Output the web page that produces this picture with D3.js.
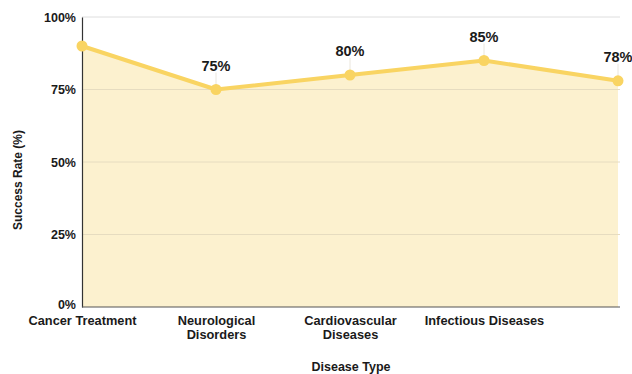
<!DOCTYPE html>
<html>
<head>
<meta charset="utf-8">
<script src="https://cdn.jsdelivr.net/npm/d3@7"></script>
<style>
  html, body { margin: 0; padding: 0; background: #fff; }
  svg { display: block; font-family: "Liberation Sans", Arial, sans-serif; }
</style>
</head>
<body>
<svg id="chart" width="632" height="374"></svg>
<script>
// Treatment success rate by disease type
const categories = ["Cancer Treatment", "Neurological Disorders", "Cardiovascular Diseases", "Infectious Diseases", ""];
const successRates = [90, 75, 80, 85, 78];
const yTicks = [0, 25, 50, 75, 100];
const labeled = [false, true, true, true, true];

const data = categories.map((c, i) => ({ key: i, name: c, value: successRates[i], labeled: labeled[i] }));

const svg = d3.select("#chart");
const margin = { left: 82, right: 14, top: 17, bottom: 67 };
const W = 632, H = 374;
const plotRight = W - margin.right + 2;

const x = d3.scalePoint().domain(data.map(d => d.key)).range([margin.left, 618]).padding(0);
const y = d3.scaleLinear().domain([0, 100]).range([H - margin.bottom, margin.top]);

const lineColor = "#f9d462";
const areaColor = "#fcf1cf";
const textColor = "#1a1a1a";
const font = "Liberation Sans, Arial, sans-serif";

// area under the line
const area = d3.area().x(d => x(d.key)).y0(y(0)).y1(d => y(d.value));
svg.append("path").datum(data).attr("d", area).attr("fill", areaColor);

// horizontal gridlines
svg.append("g").selectAll("line").data(yTicks.filter(t => t > 0)).join("line")
  .attr("x1", margin.left).attr("x2", plotRight)
  .attr("y1", d => y(d)).attr("y2", d => y(d))
  .attr("stroke", d => d === 100 ? "#dedede" : "#e6dcc0").attr("stroke-width", 1);

// y axis
const yAxis = d3.axisLeft(y).tickValues(yTicks).tickFormat(d => d + "%").tickSize(0).tickPadding(6);
const gy = svg.append("g").attr("transform", `translate(${margin.left},0)`).call(yAxis);
gy.select(".domain").attr("stroke", "#333").attr("stroke-width", 1.2);
gy.selectAll("text").attr("font-size", 12.5).attr("font-weight", "bold").attr("fill", textColor)
  .attr("font-family", font)
  .attr("dy", d => d === 0 ? "0.12em" : "0.32em");

// x axis
const xAxis = d3.axisBottom(x).tickSize(0).tickPadding(9).tickFormat(k => categories[k]);
const gx = svg.append("g").attr("transform", `translate(0,${y(0)})`).call(xAxis);
gx.select(".domain").attr("d", `M${margin.left},0H${plotRight}`).attr("stroke", "#555").attr("stroke-width", 1.2);
gx.selectAll("text").attr("font-size", 12.8).attr("font-weight", "bold").attr("fill", textColor)
  .attr("font-family", font)
  .call(wrap, 125);

function wrap(sel, width) {
  sel.each(function () {
    const t = d3.select(this);
    const words = t.text().split(/\s+/).filter(Boolean);
    const yAttr = t.attr("y"), dy = parseFloat(t.attr("dy")) || 0;
    t.text(null);
    let line = [], lineNo = 0;
    let tspan = t.append("tspan").attr("x", 0).attr("y", yAttr).attr("dy", dy + "em");
    for (const w of words) {
      line.push(w);
      tspan.text(line.join(" "));
      if (tspan.node().getComputedTextLength() > width && line.length > 1) {
        line.pop();
        tspan.text(line.join(" "));
        line = [w];
        lineNo++;
        tspan = t.append("tspan").attr("x", 0).attr("y", yAttr).attr("dy", (dy + lineNo * 1.06) + "em").text(w);
      }
    }
  });
}

// line
const line = d3.line().x(d => x(d.key)).y(d => y(d.value));
svg.append("path").datum(data).attr("d", line)
  .attr("fill", "none").attr("stroke", lineColor).attr("stroke-width", 4).attr("stroke-linejoin", "round");

// leader lines and value labels
const lab = data.filter(d => d.labeled);
svg.append("g").selectAll("line").data(lab).join("line")
  .attr("x1", d => x(d.key)).attr("x2", d => x(d.key))
  .attr("y1", d => y(d.value) - 17).attr("y2", d => y(d.value))
  .attr("stroke", "#e4e0d4").attr("stroke-width", 0.8);

// points
svg.append("g").selectAll("circle").data(data).join("circle")
  .attr("cx", d => x(d.key)).attr("cy", d => y(d.value)).attr("r", 5.5)
  .attr("fill", lineColor);

svg.append("g").selectAll("text").data(lab).join("text")
  .attr("x", d => x(d.key)).attr("y", d => y(d.value) - 19)
  .attr("text-anchor", "middle").attr("font-size", 14.5).attr("font-weight", "bold")
  .attr("fill", textColor).text(d => d.value + "%");

// axis titles
svg.append("text").attr("x", (margin.left + 618) / 2 + 1).attr("y", 371)
  .attr("text-anchor", "middle").attr("font-size", 12.5).attr("font-weight", "bold")
  .attr("fill", textColor).text("Disease Type");

svg.append("text").attr("transform", `translate(22,${(y(0) + y(100)) / 2 + 18}) rotate(-90)`)
  .attr("text-anchor", "middle").attr("font-size", 12).attr("font-weight", "bold")
  .attr("fill", textColor).text("Success Rate (%)");
</script>
</body>
</html>
